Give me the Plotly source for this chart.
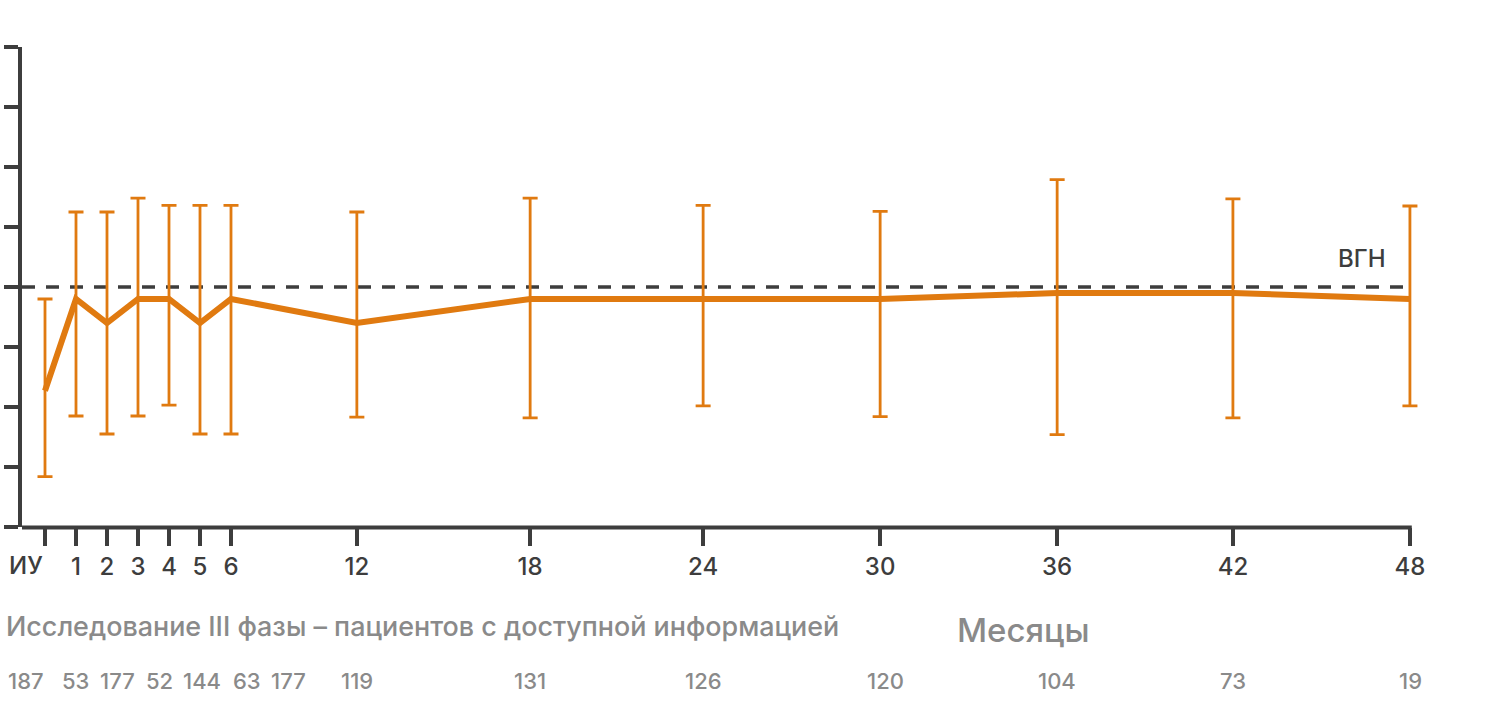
import plotly.graph_objects as go

# ---------------- data ----------------
tick_labels = ["ИУ", "1", "2", "3", "4", "5", "6", "12", "18", "24", "30", "36", "42", "48"]
# horizontal slot position of each visit on the (non-linear) time axis
x_slots = [0, 1, 2, 3, 4, 5, 6, 10.06, 15.65, 21.23, 26.94, 32.65, 38.32, 44.03]
mean_vals = [2.27, 3.8, 3.4, 3.8, 3.8, 3.4, 3.8, 3.4, 3.8, 3.8, 3.8, 3.9, 3.9, 3.8]
upper_vals = [3.8, 5.25, 5.25, 5.48, 5.36, 5.36, 5.36, 5.25, 5.48, 5.36, 5.26, 5.79, 5.47, 5.35]
lower_vals = [0.84, 1.85, 1.55, 1.85, 2.03, 1.55, 1.55, 1.83, 1.82, 2.02, 1.84, 1.54, 1.82, 2.02]
patients = ["187", "53", "177", "52", "144", "63", "177", "119", "131", "126", "120", "104", "73", "19"]
uln_value = 4
uln_label = "ВГН"
y_ticks = [0, 1, 2, 3, 4, 5, 6, 7, 8]
subtitle = "Исследование III фазы – пациентов с доступной информацией"
x_title = "Месяцы"

# ---------------- layout constants (pixels) ----------------
W, H = 1493, 720
L, R = 22, 1440          # plot area left / right edge
T, B = 47, 527           # plot area top / bottom edge
X0_PX, UNIT_PX = 45, 31  # pixel of first slot, pixels per slot unit
ORANGE = "#E07A10"
DARK = "#3d3d3d"
GREY = "#8a8a8a"
FONT = "Inter"

x_range = [(L - X0_PX) / UNIT_PX, (R - X0_PX) / UNIT_PX]


def px_x(p):
    return (p - L) / (R - L)


def px_y(p):
    return (B - p) / (B - T)


# positions of the patient-count labels (pixels)
patient_px = [26, 75, 117, 159, 202, 247, 288, 357, 530, 703, 885, 1057, 1233, 1410]

err_plus = [u - m for u, m in zip(upper_vals, mean_vals)]
err_minus = [m - lo for m, lo in zip(mean_vals, lower_vals)]

fig = go.Figure()
fig.add_trace(go.Scatter(
    x=x_slots, y=mean_vals, mode="lines",
    line=dict(color=ORANGE, width=6),
    error_y=dict(type="data", array=err_plus, arrayminus=err_minus,
                 color=ORANGE, thickness=2.8, width=7.5),
    cliponaxis=False, hoverinfo="skip", showlegend=False,
))

# upper limit of normal
fig.add_shape(type="line", xref="x", yref="y",
              x0=x_range[0], x1=x_slots[-1], y0=uln_value, y1=uln_value,
              line=dict(color=DARK, width=3.5, dash="13px,11px"), layer="below")
# x axis base line (ends at last visit)
fig.add_shape(type="line", xref="x", yref="paper",
              x0=x_range[0] - 0.1, x1=x_slots[-1] + 0.06, y0=px_y(527.5), y1=px_y(527.5),
              line=dict(color=DARK, width=4), layer="above")

annotations = []
annotations.append(dict(x=px_x(1362), y=px_y(258), xref="paper", yref="paper",
                        text=uln_label, showarrow=False,
                        font=dict(family=FONT, size=24, color=DARK, weight=500),
                        xanchor="center", yanchor="middle"))
# first tick label sits left of its tick
annotations.append(dict(x=x_slots[0], y=px_y(565), xref="x", yref="paper",
                        text=tick_labels[0], showarrow=False, xshift=0,
                        font=dict(family=FONT, size=24, color=DARK, weight=500),
                        xanchor="right", yanchor="middle"))
annotations.append(dict(x=px_x(4), y=px_y(626), xref="paper", yref="paper",
                        text=subtitle, showarrow=False,
                        font=dict(family=FONT, size=26.9, color=GREY, weight=500),
                        xanchor="left", yanchor="middle"))
annotations.append(dict(x=px_x(1023), y=px_y(630), xref="paper", yref="paper",
                        text=x_title, showarrow=False,
                        font=dict(family=FONT, size=33, color=GREY, weight=500),
                        xanchor="center", yanchor="middle"))
for p, n in zip(patient_px, patients):
    annotations.append(dict(x=px_x(p), y=px_y(681), xref="paper", yref="paper",
                            text=n, showarrow=False,
                            font=dict(family=FONT, size=22, color=GREY, weight=500),
                            xanchor="center", yanchor="middle"))

fig.update_layout(
    width=W, height=H,
    margin=dict(l=L, r=W - R, t=T, b=H - B, pad=0, autoexpand=False),
    paper_bgcolor="white", plot_bgcolor="white",
    showlegend=False,
    annotations=annotations,
    xaxis=dict(range=x_range, showgrid=False, zeroline=False,
               showline=False, automargin=False,
               tickmode="array", tickvals=x_slots,
               ticktext=[""] + tick_labels[1:],
               ticks="outside", ticklen=18, tickwidth=4, tickcolor=DARK,
               tickfont=dict(family=FONT, size=24, color=DARK, weight=500),
               fixedrange=True),
    yaxis=dict(range=[y_ticks[0], y_ticks[-1]], showgrid=False, zeroline=False,
               showline=True, linecolor=DARK, linewidth=4, automargin=False,
               tickmode="array", tickvals=y_ticks, showticklabels=False,
               ticks="outside", ticklen=14, tickwidth=4, tickcolor=DARK,
               fixedrange=True),
)

fig.write_html("out.html", config={"displayModeBar": False},
               post_script="document.body.style.margin='0';")
